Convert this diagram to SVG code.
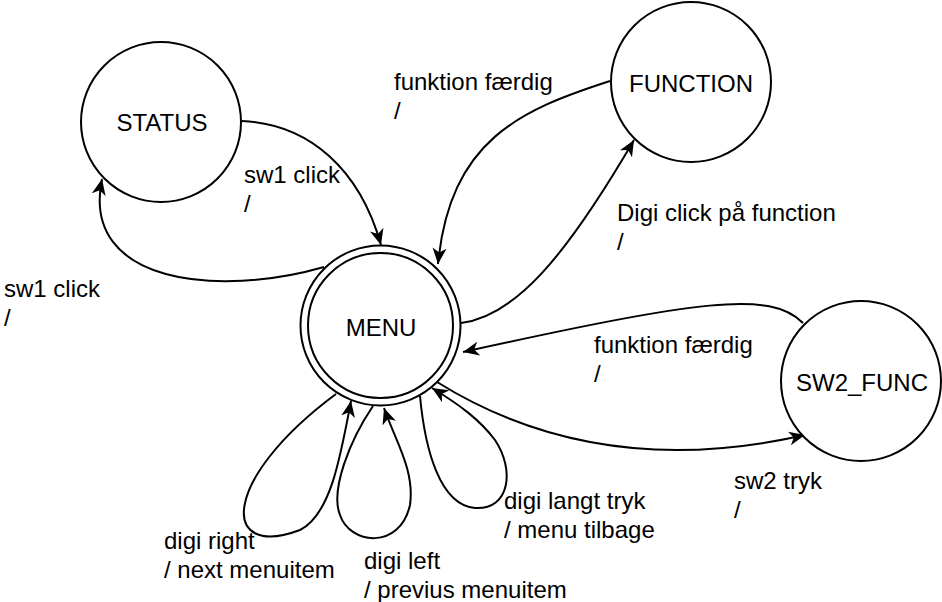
<svg xmlns="http://www.w3.org/2000/svg" width="942" height="602" viewBox="0 0 942 602">
<style>
.st{fill:#fff;stroke:#000;stroke-width:2}
.e{fill:none;stroke:#000;stroke-width:2;marker-end:url(#arr)}
.nt{font-family:"Liberation Sans",Arial,sans-serif;font-size:24px;fill:#000;text-anchor:middle}
.lb{font-family:"Liberation Sans",Arial,sans-serif;font-size:24px;fill:#000}
</style>
<defs>
<marker id="arr" markerWidth="17" markerHeight="15" refX="16" refY="7.5" orient="auto" markerUnits="userSpaceOnUse" viewBox="0 0 17 15">
<path d="M16,7.5 L0,0.5 L4.5,7.5 L0,14.5 Z" fill="#000"/>
</marker>
</defs>
<rect width="942" height="602" fill="#fff"/>
<g id="connectors">
<path id="e-status-menu" class="e" d="M242 121 C310 124 360 170 381 245"/>
<path id="e-menu-status" class="e" d="M324 267 C220 297 80 285 102 179"/>
<path id="e-function-menu" class="e" d="M610 81 C520 110 450 140 438 264"/>
<path id="e-menu-function" class="e" d="M461 323 C515 316 565 258 634 140"/>
<path id="e-sw2-menu" class="e" d="M803 323 C770 290 700 300 463 352"/>
<path id="e-menu-sw2" class="e" d="M437 382 C530 440 650 470 805 435"/>
<path id="e-loop-right" class="e" d="M336 394 C220 480 220 560 300 530 C330 515 340 460 351 401"/>
<path id="e-loop-left" class="e" d="M373 406 C350 440 330 490 340 515 C350 545 400 550 410 505 C415 470 395 440 384 408"/>
<path id="e-loop-langt" class="e" d="M420 396 C425 450 440 505 475 508 C510 510 515 470 495 440 C480 420 460 405 432 388"/>
</g>
<g id="labels">
<text class="lb" x="244" y="183">sw1 click</text>
<text class="lb" x="244" y="212">/</text>
<text class="lb" x="4" y="297">sw1 click</text>
<text class="lb" x="4" y="326">/</text>
<text class="lb" x="394" y="90">funktion færdig</text>
<text class="lb" x="394" y="119">/</text>
<text class="lb" x="617" y="221">Digi click på function</text>
<text class="lb" x="617" y="250">/</text>
<text class="lb" x="594" y="353">funktion færdig</text>
<text class="lb" x="594" y="382">/</text>
<text class="lb" x="734" y="489">sw2 tryk</text>
<text class="lb" x="734" y="518">/</text>
<text class="lb" x="164" y="549">digi right</text>
<text class="lb" x="164" y="578">/ next menuitem</text>
<text class="lb" x="364" y="569">digi left</text>
<text class="lb" x="364" y="598">/ previus menuitem</text>
<text class="lb" x="504" y="509">digi langt tryk</text>
<text class="lb" x="504" y="538">/ menu tilbage</text>
</g>
<g id="STATUS">
<circle class="st" cx="161" cy="122" r="80"/>
<text class="nt" x="162" y="131">STATUS</text>
</g>
<g id="FUNCTION">
<circle class="st" cx="691" cy="82" r="80"/>
<text class="nt" x="691" y="92">FUNCTION</text>
</g>
<g id="MENU">
<circle class="st" cx="380.5" cy="325.5" r="80"/>
<circle class="st" cx="380.5" cy="325.5" r="72.5"/>
<text class="nt" x="381" y="336">MENU</text>
</g>
<g id="SW2_FUNC">
<circle class="st" cx="861" cy="381" r="80"/>
<text class="nt" x="862" y="391">SW2_FUNC</text>
</g>
</svg>
